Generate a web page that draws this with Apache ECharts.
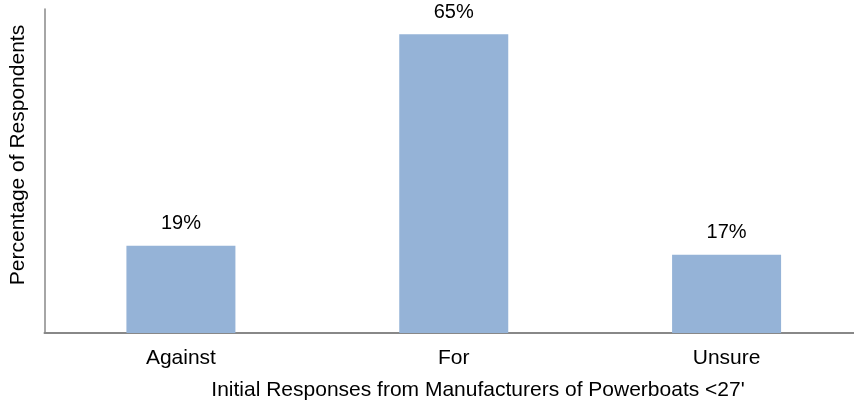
<!DOCTYPE html>
<html>
<head>
<meta charset="utf-8">
<script src="https://cdn.jsdelivr.net/npm/echarts@6/dist/echarts.min.js"></script>
<style>
html,body{margin:0;padding:0;background:#fff;overflow:hidden;}
#c{width:864px;height:400px;}
</style>
</head>
<body>
<div id="c"></div>
<script>
var categories = ['Against', 'For', 'Unsure'];
var values = [19, 65, 17];
var xTitle = "Initial Responses from Manufacturers of Powerboats <27'";
var yTitle = 'Percentage of Respondents';

var chart = echarts.init(document.getElementById('c'), null, {renderer: 'canvas'});
var font = '"Liberation Sans", Arial, sans-serif';
chart.setOption({
  animation: false,
  backgroundColor: '#ffffff',
  grid: {left: 44.5, top: 9, width: 818.5, height: 324},
  xAxis: {
    type: 'category',
    data: categories,
    axisLine: {lineStyle: {color: '#888888', width: 2}},
    axisTick: {show: false},
    axisLabel: {color: '#000', fontSize: 21, fontFamily: font, margin: 15}
  },
  yAxis: {
    type: 'value',
    min: 0,
    max: 70.5,
    axisLine: {show: true, lineStyle: {color: '#888888', width: 1.5}},
    axisTick: {show: false},
    axisLabel: {show: false},
    splitLine: {show: false}
  },
  series: [{
    type: 'bar',
    data: values,
    barWidth: 109,
    itemStyle: {color: '#95B3D7'},
    label: {
      show: true,
      position: 'top',
      distance: 12,
      formatter: '{c}%',
      color: '#000',
      fontSize: 20,
      fontFamily: font
    }
  }],
  graphic: [
    {
      type: 'text',
      x: 478, y: 390,
      style: {text: xTitle, fontSize: 21, fontFamily: font, fill: '#000', textAlign: 'center', textVerticalAlign: 'middle'}
    },
    {
      type: 'text',
      x: 18, y: 155,
      rotation: Math.PI / 2,
      style: {text: yTitle, fontSize: 21, fontFamily: font, fill: '#000', textAlign: 'center', textVerticalAlign: 'middle'}
    }
  ]
});
</script>
</body>
</html>
